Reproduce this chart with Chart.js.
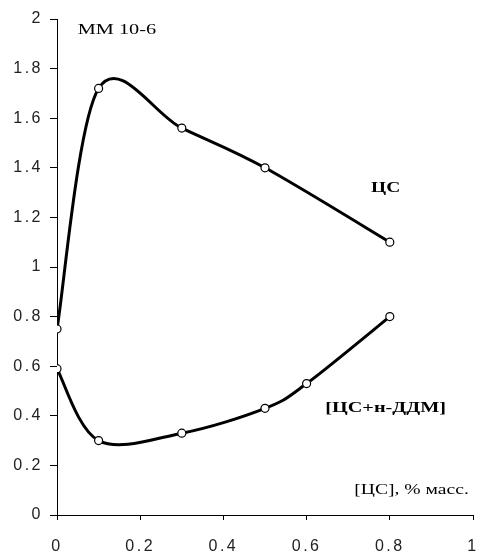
<!DOCTYPE html>
<html>
<head>
<meta charset="utf-8">
<script src="https://cdn.jsdelivr.net/npm/chart.js@4.4.0/dist/chart.umd.min.js"></script>
<style>
  html, body { margin: 0; padding: 0; background: #fff; }
  #wrap { width: 481px; height: 553px; position: relative; }
</style>
</head>
<body>
<div id="wrap"><canvas id="lineChart"></canvas></div>
<script>
// ЦС
var csX = [0, 0.1, 0.3, 0.5, 0.8];
var csY = [0.75, 1.72, 1.56, 1.40, 1.10];
// [ЦС+н-ДДМ]
var mixX = [0, 0.1, 0.3, 0.5, 0.6, 0.8];
var mixY = [0.59, 0.30, 0.33, 0.43, 0.53, 0.80];

var xTicks = [0, 0.2, 0.4, 0.6, 0.8, 1];
var yTicks = [0, 0.2, 0.4, 0.6, 0.8, 1, 1.2, 1.4, 1.6, 1.8, 2];

// text labels placed in data coords (old bitmap fonts look stretched, hence sx)
var notes = [
  { text: 'ММ 10-6', x: 0.05, y: 1.955, font: '14px "Liberation Serif"', align: 'left', sx: 1.45 },
  { text: 'ЦС', x: 0.79, y: 1.32, font: 'bold 15px "Liberation Serif"', align: 'center', sx: 1.3 },
  { text: '[ЦС+н-ДДМ]', x: 0.79, y: 0.43, font: 'bold 15px "Liberation Serif"', align: 'center', sx: 1.35 },
  { text: '[ЦС], % масс.', x: 0.99, y: 0.10, font: '14px "Liberation Serif"', align: 'right', sx: 1.4 }
];

function pts(xs, ys) {
  var out = [];
  for (var i = 0; i < xs.length; i++) out.push({ x: xs[i], y: ys[i] });
  return out;
}

// excel-like smoothing: tangent at each point = (next - prev) / 6
var smoothPlugin = {
  id: 'smooth',
  beforeDatasetDraw: function(chart, args) {
    var line = args.meta.dataset;
    var p = args.meta.data;
    line.updateControlPoints(chart.chartArea, 'x');
    for (var i = 0; i < p.length; i++) {
      var prev = p[i - 1] || p[i];
      var next = p[i + 1] || p[i];
      var tx = (next.x - prev.x) / 6;
      var ty = (next.y - prev.y) / 6;
      p[i].cp1x = p[i].x - tx;
      p[i].cp1y = p[i].y - ty;
      p[i].cp2x = p[i].x + tx;
      p[i].cp2y = p[i].y + ty;
    }
    line._path = undefined;
  }
};

var notesPlugin = {
  id: 'notes',
  beforeDraw: function(chart) {
    chart.ctx.letterSpacing = '2.5px';
  },
  afterDraw: function(chart) {
    var ctx = chart.ctx;
    ctx.save();
    ctx.letterSpacing = '0px';
    ctx.fillStyle = '#000';
    ctx.textBaseline = 'middle';
    notes.forEach(function(n) {
      ctx.save();
      ctx.font = n.font;
      ctx.textAlign = n.align;
      ctx.translate(chart.scales.x.getPixelForValue(n.x), chart.scales.y.getPixelForValue(n.y));
      ctx.scale(n.sx, 1);
      ctx.fillText(n.text, 0, 0);
      ctx.restore();
    });
    ctx.restore();
  }
};

function lineSet(data) {
  return {
    data: data,
    borderColor: '#000',
    borderWidth: 3,
    tension: 0.4,
    pointRadius: 4,
    pointBackgroundColor: '#fff',
    pointBorderColor: '#000',
    pointBorderWidth: 1.2
  };
}

new Chart(document.getElementById('lineChart'), {
  type: 'line',
  data: {
    datasets: [lineSet(pts(csX, csY)), lineSet(pts(mixX, mixY))]
  },
  plugins: [smoothPlugin, notesPlugin],
  options: {
    responsive: true,
    maintainAspectRatio: false,
    animation: false,
    layout: { padding: { top: 19, right: 8, left: 0, bottom: 0 } },
    plugins: { legend: { display: false }, tooltip: { enabled: false } },
    scales: {
      x: {
        type: 'linear',
        min: 0, max: 1,
        afterBuildTicks: function(s) { s.ticks = xTicks.map(function(v) { return { value: v }; }); },
        afterFit: function(s) { s.height = 38; s.paddingLeft = 0; s.paddingRight = 0; },
        grid: { drawOnChartArea: false, drawTicks: true, tickLength: 5, color: '#000' },
        border: { color: '#000', width: 1 },
        ticks: {
          color: '#222', padding: 17, maxRotation: 0,
          font: { family: '"Liberation Sans", Arial', size: 16 },
          callback: function(v) { return String(v); }
        }
      },
      y: {
        min: 0, max: 2,
        afterBuildTicks: function(s) { s.ticks = yTicks.map(function(v) { return { value: v }; }); },
        afterFit: function(s) { s.width = 57; s.paddingTop = 0; s.paddingBottom = 0; },
        grid: { drawOnChartArea: false, drawTicks: true, tickLength: 7, color: '#000' },
        border: { color: '#000', width: 1 },
        ticks: {
          color: '#222', padding: 7,
          font: { family: '"Liberation Sans", Arial', size: 16 },
          callback: function(v) { return String(v); }
        }
      }
    }
  }
});
</script>
</body>
</html>
